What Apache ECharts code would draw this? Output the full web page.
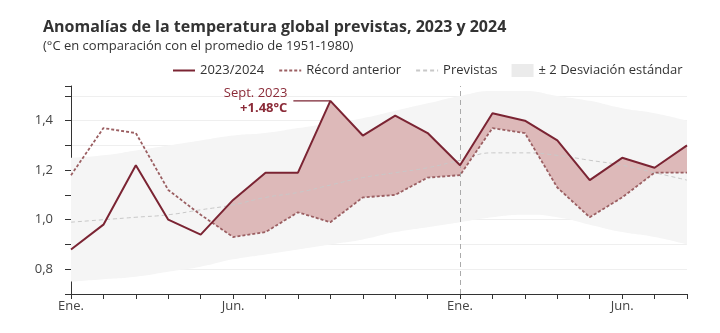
<!DOCTYPE html>
<html>
<head>
<meta charset="utf-8">
<script src="https://cdn.jsdelivr.net/npm/echarts@6/dist/echarts.min.js"></script>
<style>
    html, body { margin: 0; padding: 0; background: #fff; }
    #chart { width: 720px; height: 333px; }
</style>
</head>
<body>
<div id="chart"></div>
<script>
var categories = ['Ene. 2023', 'Feb. 2023', 'Mar. 2023', 'Abr. 2023', 'May. 2023', 'Jun. 2023',
    'Jul. 2023', 'Ago. 2023', 'Sept. 2023', 'Oct. 2023', 'Nov. 2023', 'Dic. 2023',
    'Ene. 2024', 'Feb. 2024', 'Mar. 2024', 'Abr. 2024', 'May. 2024', 'Jun. 2024',
    'Jul. 2024', 'Ago. 2024'];
var anomalia = [0.88, 0.98, 1.22, 1.00, 0.94, 1.08, 1.19, 1.19, 1.48, 1.34, 1.42, 1.35,
    1.22, 1.43, 1.40, 1.32, 1.16, 1.25, 1.21, 1.30];
var recordAnterior = [1.18, 1.37, 1.35, 1.12, 1.02, 0.93, 0.95, 1.03, 0.99, 1.09, 1.10, 1.17,
    1.18, 1.37, 1.35, 1.13, 1.01, 1.09, 1.19, 1.19];
var previstas = [0.99, 1.00, 1.01, 1.02, 1.04, 1.06, 1.09, 1.11, 1.14, 1.17, 1.19, 1.21,
    1.24, 1.27, 1.27, 1.26, 1.24, 1.22, 1.19, 1.16];
var bandaSuperior = [1.25, 1.26, 1.28, 1.30, 1.32, 1.34, 1.35, 1.37, 1.39, 1.41, 1.44, 1.47,
    1.50, 1.52, 1.52, 1.50, 1.48, 1.45, 1.43, 1.40];
var bandaInferior = [0.75, 0.76, 0.77, 0.79, 0.81, 0.84, 0.86, 0.88, 0.90, 0.92, 0.95, 0.97,
    0.99, 1.01, 1.02, 1.01, 0.98, 0.95, 0.93, 0.90];

var nombres = ['2023/2024', 'Récord anterior', 'Previstas', '± 2 Desviación estándar'];
var FONT = 'Open Sans';

// ancho de la banda (apilada sobre el límite inferior)
var bandaAncho = [];
for (var i = 0; i < bandaSuperior.length; i++) {
    bandaAncho.push(+(bandaSuperior[i] - bandaInferior[i]).toFixed(2));
}

// relleno entre 2023/2024 y el récord anterior, sólo donde 2023/2024 es mayor
function renderRelleno(params, api) {
    var top = [], bot = [];
    var n = anomalia.length;
    for (var i = 0; i < n; i++) {
        top.push(api.coord([i, Math.max(anomalia[i], recordAnterior[i])]));
        bot.push(api.coord([i, recordAnterior[i]]));
        if (i < n - 1) {
            var d0 = anomalia[i] - recordAnterior[i];
            var d1 = anomalia[i + 1] - recordAnterior[i + 1];
            if (d0 * d1 < 0) {
                var t = d0 / (d0 - d1);
                var a = api.coord([i, recordAnterior[i]]);
                var b = api.coord([i + 1, recordAnterior[i + 1]]);
                var c = [a[0] + t * (b[0] - a[0]), a[1] + t * (b[1] - a[1])];
                top.push(c);
                bot.push(c);
            }
        }
    }
    return {
        type: 'polygon',
        shape: { points: top.concat(bot.reverse()) },
        style: { fill: '#ddb9b9' }
    };
}

var gridColors = ['#efefef', '#efefef', '#efefef', '#efefef', '#efefef', '#efefef',
    '#efefef', '#efefef', '#efefef', 'rgba(0,0,0,0)'];

var option = {
    animation: false,
    textStyle: { fontFamily: FONT },
    title: {
        text: 'Anomalías de la temperatura global previstas, 2023 y 2024',
        subtext: '(°C en comparación con el promedio de 1951-1980)',
        left: 43,
        top: 17,
        padding: 0,
        itemGap: 1,
        textStyle: { fontFamily: FONT, fontSize: 16, fontWeight: 'bold', color: '#333', lineHeight: 20 },
        subtextStyle: { fontFamily: FONT, fontSize: 13, color: '#333', lineHeight: 16 }
    },
    legend: {
        left: 172,
        top: 64,
        padding: 0,
        itemWidth: 22,
        itemHeight: 13,
        itemGap: 14,
        textStyle: { fontFamily: FONT, fontSize: 13, color: '#333' },
        data: [
            { name: nombres[0], itemStyle: { opacity: 0 } },
            { name: nombres[1], itemStyle: { opacity: 0 } },
            { name: nombres[2], itemStyle: { opacity: 0 } },
            { name: nombres[3], icon: 'rect', itemStyle: { color: '#ebebeb' } }
        ]
    },
    grid: { left: 71, right: 33, top: 86, bottom: 39, containLabel: false },
    xAxis: {
        type: 'category',
        boundaryGap: false,
        data: categories,
        axisLine: { lineStyle: { color: '#333', width: 1 } },
        axisTick: { interval: 0, length: 5, lineStyle: { color: '#333' } },
        axisLabel: {
            interval: function (index) { return index % 12 === 0 || index % 12 === 5; },
            formatter: function (v) { return v.split(' ')[0]; },
            margin: 6,
            fontFamily: FONT,
            fontSize: 13,
            color: '#444'
        },
        splitLine: { show: false }
    },
    yAxis: {
        type: 'value',
        min: 0.7,
        max: 1.54,
        interval: 0.1,
        axisLine: { show: true, lineStyle: { color: '#333', width: 1 } },
        axisTick: { show: true, length: 6, lineStyle: { color: '#333' } },
        axisLabel: {
            margin: 18,
            fontFamily: FONT,
            fontSize: 13,
            color: '#444',
            formatter: function (v) {
                var k = Math.round(v * 10);
                if (Math.abs(v * 10 - k) > 0.01 || k % 2 !== 0 || k < 8) return '';
                return v.toFixed(1).replace('.', ',');
            }
        },
        splitLine: { show: true, lineStyle: { color: gridColors, width: 1 } }
    },
    series: [
        {
            name: 'base',
            type: 'line',
            stack: 'banda',
            smooth: true,
            symbol: 'none',
            data: bandaInferior,
            lineStyle: { opacity: 0 },
            silent: true,
            z: 1
        },
        {
            name: nombres[3],
            type: 'line',
            stack: 'banda',
            smooth: true,
            symbol: 'none',
            data: bandaAncho,
            itemStyle: { color: '#ebebeb' },
            lineStyle: { opacity: 0 },
            areaStyle: { color: '#f5f5f5', opacity: 1 },
            silent: true,
            z: 1
        },
        {
            name: 'relleno',
            type: 'custom',
            renderItem: renderRelleno,
            data: [[0, 1]],
            silent: true,
            z: 2
        },
        {
            name: nombres[2],
            type: 'line',
            smooth: true,
            symbol: 'none',
            data: previstas,
            itemStyle: { color: '#c8c8c8' },
            lineStyle: { color: '#c8c8c8', width: 1, type: [4, 3] },
            z: 3,
            markLine: {
                silent: true,
                symbol: 'none',
                label: { show: false },
                lineStyle: { color: '#aaa', width: 1, type: [5, 4] },
                data: [{ xAxis: 12 }]
            }
        },
        {
            name: nombres[1],
            type: 'line',
            symbol: 'none',
            data: recordAnterior,
            itemStyle: { color: '#9b5f62' },
            lineStyle: { color: '#9b5f62', width: 1.8, type: [3, 2] },
            z: 4
        },
        {
            name: nombres[0],
            type: 'line',
            symbol: 'none',
            data: anomalia,
            itemStyle: { color: '#7b2433' },
            lineStyle: { color: '#7b2433', width: 2 },
            z: 5,
            markPoint: {
                silent: true,
                data: [{
                    coord: [8, anomalia[8]],
                    symbol: 'rect',
                    symbolSize: [37, 1.2],
                    symbolOffset: [-18.5, 0],
                    itemStyle: { color: '#7b2433' },
                    label: {
                        show: true,
                        position: 'left',
                        distance: 6,
                        formatter: '{a|Sept. 2023}\n{b|+1.48°C}',
                        rich: {
                            a: { fontFamily: FONT, fontSize: 13, color: '#8b2b38', align: 'right', lineHeight: 15 },
                            b: { fontFamily: FONT, fontSize: 13, fontWeight: 'bold', color: '#8b2b38', align: 'right', lineHeight: 15 }
                        }
                    }
                }]
            }
        }
    ]
};

var chart = echarts.init(document.getElementById('chart'));
chart.setOption(option);
</script>
</body>
</html>
